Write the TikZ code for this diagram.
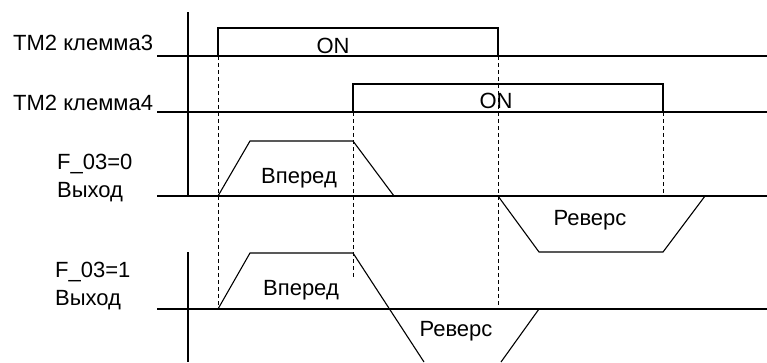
\documentclass[tikz,border=0pt]{standalone}
\usepackage{fontspec}
\setmainfont{Liberation Sans}
\begin{document}
\begin{tikzpicture}[x=1pt, y=-1pt, font=\fontsize{22}{26}\selectfont,
  sig/.style={line width=1.1pt},
  guide/.style={line width=1pt, dash pattern=on 4pt off 3pt},
  lbl/.style={anchor=base west, inner sep=0pt},
  txt/.style={anchor=base, inner sep=0pt}]
  \useasboundingbox (0,0) rectangle (767,362);
  % axes
  \draw[sig] (188,12) -- (188,196);
  \draw[sig] (188,252) -- (188,362);
  % base lines
  \foreach \y in {56,112,196,309}
    \draw[sig] (157,\y) -- (767,\y);
  % TM2 klemma3 / klemma4
  \draw[sig] (218,56) -- (218,28) -- (498,28) -- (498,56);
  \draw[sig] (353,112) -- (353,84) -- (663,84) -- (663,112);
  % F_03=0
  \draw[sig] (218,196) -- (250,141) -- (353,141) -- (394,196);
  \draw[sig] (498,196) -- (539,252) -- (663,252) -- (705,196);
  % F_03=1
  \draw[sig] (218,309) -- (250,253) -- (353,253) -- (424,362);
  \draw[sig] (501,362) -- (539,309);
  % dashed guides
  \draw[guide] (218,28) -- (218,309);
  \draw[guide] (353,84) -- (353,279);
  \draw[guide] (498,56) -- (498,309);
  \draw[guide] (663,112) -- (663,196);
  % labels
  \node[lbl] (k3) at (13,50) {ТМ2 клемма3};
  \node[lbl] (k4) at (13,110) {ТМ2 клемма4};
  \node[lbl] (f0) at (57,169) {F\_03=0};
  \node[lbl] (out0) at (57,197) {Выход};
  \node[lbl] (f1) at (55,277) {F\_03=1};
  \node[lbl] (out1) at (55,305) {Выход};
  \node[txt] (on3) at (333,53) {ON};
  \node[txt] (on4) at (496,108) {ON};
  \node[txt] (fwd0) at (299,183) {Вперед};
  \node[txt] (fwd1) at (301,295) {Вперед};
  \node[txt] (rev0) at (590,225) {Реверс};
  \node[txt] (rev1) at (456,336) {Реверс};
\end{tikzpicture}
\end{document}
